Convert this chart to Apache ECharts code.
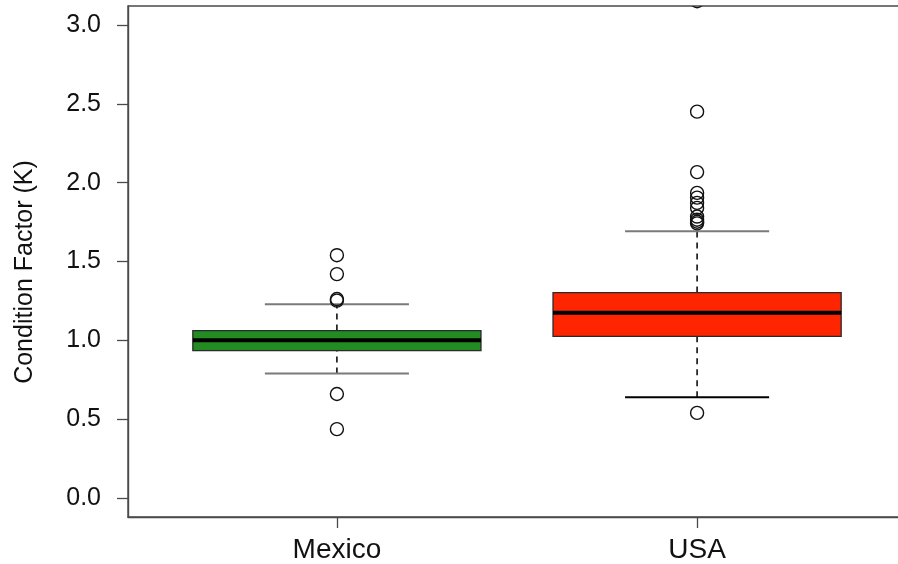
<!DOCTYPE html>
<html>
<head>
<meta charset="utf-8">
<script src="https://cdn.jsdelivr.net/npm/echarts@6/dist/echarts.min.js"></script>
<style>
  html, body { margin: 0; padding: 0; background: #fff; }
  #chart { width: 898px; height: 564px; }
</style>
</head>
<body>
<div id="chart"></div>
<script>
// Box-plot summary per group
const categories = ['Mexico', 'USA'];
const lowerWhisker = [0.79, 0.64];
const q1 = [0.935, 1.025];
const median = [1.0, 1.175];
const q3 = [1.062, 1.303];
const upperWhisker = [1.229, 1.692];
const boxColors = ['#228b22', '#ff2500'];
const capColors = [['#7a7a7a', '#7a7a7a'], ['#000000', '#7a7a7a']];

// Outlying observations per group
const outliersMexico = [1.54, 1.42, 1.262, 1.252, 0.66, 0.437];
const outliersUSA = [3.15, 2.45, 2.067, 1.935, 1.905, 1.872, 1.84, 1.785, 1.765, 1.752, 1.742, 0.54];

// Axis ticks
const yTicks = [0, 0.5, 1, 1.5, 2, 2.5, 3];
const xTicks = [1, 2];

const boxWidth = 0.8;
const capWidth = 0.4;
const FONT = 'Liberation Sans, Arial, Helvetica, sans-serif';

const outlierPoints = [];
outliersMexico.forEach(v => outlierPoints.push([1, v]));
outliersUSA.forEach(v => outlierPoints.push([2, v]));

const boxData = categories.map((c, i) => [i + 1, lowerWhisker[i], q1[i], median[i], q3[i], upperWhisker[i]]);

function renderBox(params, api) {
  const i = params.dataIndex;
  const x = api.value(0);
  const lo = api.value(1), a = api.value(2), med = api.value(3), b = api.value(4), hi = api.value(5);
  const pLo = api.coord([x, lo]);
  const pA = api.coord([x, a]);
  const pMed = api.coord([x, med]);
  const pB = api.coord([x, b]);
  const pHi = api.coord([x, hi]);
  const halfBox = api.size([boxWidth, 0])[0] / 2;
  const halfCap = api.size([capWidth, 0])[0] / 2;
  const cx = pA[0];
  const dash = { stroke: '#000', lineWidth: 1.5, lineDash: [6, 5] };
  return {
    type: 'group',
    children: [
      { type: 'line', shape: { x1: cx, y1: pB[1], x2: cx, y2: pHi[1] }, style: dash },
      { type: 'line', shape: { x1: cx, y1: pLo[1], x2: cx, y2: pA[1] }, style: dash },
      { type: 'line', shape: { x1: cx - halfCap, y1: pHi[1], x2: cx + halfCap, y2: pHi[1] },
        style: { stroke: capColors[i][1], lineWidth: 2 } },
      { type: 'line', shape: { x1: cx - halfCap, y1: pLo[1], x2: cx + halfCap, y2: pLo[1] },
        style: { stroke: capColors[i][0], lineWidth: 2 } },
      { type: 'rect', shape: { x: cx - halfBox, y: pB[1], width: 2 * halfBox, height: pA[1] - pB[1] },
        style: { fill: boxColors[i], stroke: '#2a2a2a', lineWidth: 1.3 } },
      { type: 'line', shape: { x1: cx - halfBox, y1: pMed[1], x2: cx + halfBox, y2: pMed[1] },
        style: { stroke: '#000', lineWidth: 4 } }
    ]
  };
}

// Hollow circles for outliers, clipped to the plotting frame
function renderOutlier(params, api) {
  const p = api.coord([api.value(0), api.value(1)]);
  return {
    type: 'circle',
    shape: { cx: p[0], cy: p[1], r: 6.5 },
    style: { fill: 'none', stroke: '#111', lineWidth: 1.4 }
  };
}

const chart = echarts.init(document.getElementById('chart'), null, { renderer: 'canvas' });
chart.setOption({
  animation: false,
  backgroundColor: '#fff',
  grid: {
    left: 128, top: 6, width: 778, height: 511,
    outerBoundsMode: 'none', containLabel: false,
    show: true, borderColor: '#4a4a4a', borderWidth: 1.4, backgroundColor: 'transparent'
  },
  xAxis: {
    type: 'value', min: 0.42, max: 2.58,
    splitLine: { show: false },
    axisLine: { show: true, onZero: false, lineStyle: { color: '#4a4a4a', width: 1.4 } },
    axisTick: { show: true, length: 11, customValues: xTicks, lineStyle: { color: '#4a4a4a', width: 1.3 } },
    axisLabel: {
      customValues: xTicks, margin: 19,
      fontFamily: FONT, fontSize: 28, color: '#111',
      formatter: v => categories[Math.round(v) - 1] || ''
    }
  },
  yAxis: {
    type: 'value', min: -0.12, max: 3.12,
    splitLine: { show: false },
    axisLine: { show: true, onZero: false, lineStyle: { color: '#4a4a4a', width: 1.4 } },
    axisTick: { show: true, length: 11, customValues: yTicks, lineStyle: { color: '#4a4a4a', width: 1.3 } },
    axisLabel: {
      customValues: yTicks, margin: 27,
      fontFamily: FONT, fontSize: 25, color: '#111',
      formatter: v => v.toFixed(1)
    }
  },
  graphic: [{
    type: 'text', x: 25, y: 272, rotation: Math.PI / 2,
    style: {
      text: 'Condition Factor (K)', fontFamily: FONT, fontSize: 25, fill: '#111',
      align: 'center', verticalAlign: 'middle'
    }
  }],
  series: [
    {
      type: 'custom', data: boxData, renderItem: renderBox, clip: true,
      encode: { x: 0, y: [1, 2, 3, 4, 5] }, z: 2
    },
    {
      type: 'custom', data: outlierPoints, renderItem: renderOutlier, clip: true,
      encode: { x: 0, y: 1 }, z: 3
    }
  ]
});
</script>
</body>
</html>
